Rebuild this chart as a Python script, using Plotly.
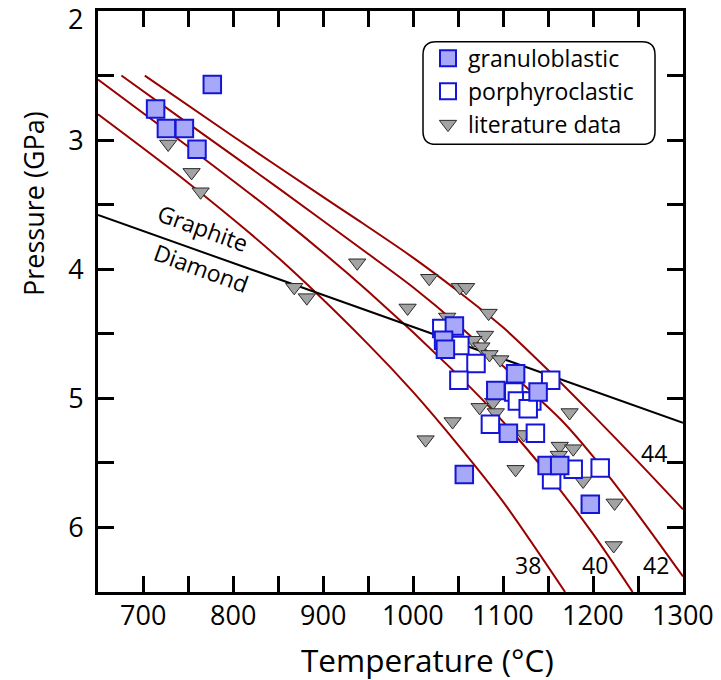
import plotly.graph_objects as go

# ---------------- data ----------------
# geotherms, labelled by surface heat flow (mW/m^2)
t38 = [650, 750, 850, 950, 1000, 1050, 1100, 1169]
p38 = [2.80, 3.33, 3.91, 4.58, 4.95, 5.36, 5.80, 6.50]
t40 = [650, 750, 850, 950, 1050, 1100, 1150, 1200, 1244]
p40 = [2.53, 3.05, 3.585, 4.17, 4.82, 5.18, 5.59, 6.05, 6.50]
t42 = [676, 750, 850, 950, 1000, 1050, 1100, 1165, 1200, 1250, 1300]
p42 = [2.50, 2.87, 3.37, 3.88, 4.14, 4.43, 4.75, 5.17, 5.45, 5.90, 6.38]
t44 = [702, 800, 900, 941, 1000, 1050, 1100, 1150, 1200, 1250, 1300]
p44 = [2.50, 2.97, 3.44, 3.63, 3.91, 4.17, 4.45, 4.78, 5.13, 5.49, 5.86]
geotherm_labels = ["38", "40", "42", "44"]
geotherm_label_t = [1128, 1202, 1270, 1268]
geotherm_label_p = [6.29, 6.29, 6.29, 5.42]

# graphite-diamond transition
t_gd = [650, 1300]
p_gd = [3.58, 5.19]

gran_t = [777, 714, 726, 746, 760, 1046, 1034, 1036, 1114, 1092, 1139, 1106, 1149, 1163, 1197, 1057]
gran_p = [2.57, 2.76, 2.91, 2.91, 3.07, 4.44, 4.55, 4.62, 4.81, 4.94, 4.95, 5.27, 5.52, 5.52, 5.82, 5.59]

por_t = [1032, 1052, 1070, 1051, 1153, 1112, 1116, 1132, 1128, 1086, 1136, 1178, 1208, 1154]
por_p = [4.46, 4.59, 4.73, 4.86, 4.86, 4.95, 5.02, 5.02, 5.08, 5.20, 5.27, 5.55, 5.54, 5.63]

lit_t = [728, 754, 764, 868, 882, 938, 994, 1018, 1052, 1059, 1084, 1038, 1080, 1067, 1076, 1085,
         1097, 1174, 1074, 1089, 1092, 1044, 1014, 1123, 1163, 1178, 1162, 1114, 1189, 1224, 1223]
lit_p = [3.03, 3.25, 3.40, 4.14, 4.22, 3.95, 4.30, 4.07, 4.14, 4.14, 4.34, 4.37, 4.51, 4.55, 4.60, 4.66,
         4.70, 5.11, 5.07, 5.03, 5.11, 5.18, 5.32, 5.28, 5.37, 5.39, 5.44, 5.55, 5.64, 5.81, 6.14]

x_ticks = list(range(650, 1301, 50))
x_ticktext = [str(v) if v % 100 == 0 else "" for v in x_ticks]
y_ticks = [2 + 0.5 * i for i in range(10)]
y_ticktext = [str(int(v)) if (v == int(v) and v != 2) else "" for v in y_ticks]

# ---------------- figure ----------------
FONT = "Open Sans"
RED = "#990000"
X0, X1 = 650, 1300
Y0, Y1 = 2.0, 6.5
L, R, T, B = 98, 38, 8, 88
W, H = 721, 680
pw, ph = W - L - R, H - T - B


def px2x(px):
    return X0 + (px - L) / pw * (X1 - X0)


def py2y(py):
    return Y0 + (py - T) / ph * (Y1 - Y0)


fig = go.Figure()
for tt, pp in [(t38, p38), (t40, p40), (t42, p42), (t44, p44)]:
    fig.add_trace(go.Scatter(x=tt, y=pp, mode="lines", showlegend=False,
                             line=dict(color=RED, width=2, shape="spline", smoothing=0.8),
                             hoverinfo="skip"))
fig.add_trace(go.Scatter(x=t_gd, y=p_gd, mode="lines", showlegend=False,
                         line=dict(color="black", width=2), hoverinfo="skip"))

fig.add_trace(go.Scatter(x=lit_t, y=lit_p, mode="markers", name="literature data",
                         legendrank=3,
                         marker=dict(symbol="triangle-down", size=15, color="#a3a3a3",
                                     line=dict(color="#2a2a2a", width=1))))
fig.add_trace(go.Scatter(x=por_t, y=por_p, mode="markers", name="porphyroclastic",
                         legendrank=2,
                         marker=dict(symbol="square", size=17.5, color="white",
                                     line=dict(color="#1515d8", width=2))))
fig.add_trace(go.Scatter(x=gran_t, y=gran_p, mode="markers", name="granuloblastic",
                         legendrank=1,
                         marker=dict(symbol="square", size=17.5, color="#a8a8f8",
                                     line=dict(color="#1515d8", width=2))))

# rounded legend frame
bx0, bx1, by0, by1, rad = 423, 655, 39, 142, 13
path = (f"M {px2x(bx0 + rad)},{py2y(by0)} L {px2x(bx1 - rad)},{py2y(by0)} "
        f"Q {px2x(bx1)},{py2y(by0)} {px2x(bx1)},{py2y(by0 + rad)} "
        f"L {px2x(bx1)},{py2y(by1 - rad)} Q {px2x(bx1)},{py2y(by1)} {px2x(bx1 - rad)},{py2y(by1)} "
        f"L {px2x(bx0 + rad)},{py2y(by1)} Q {px2x(bx0)},{py2y(by1)} {px2x(bx0)},{py2y(by1 - rad)} "
        f"L {px2x(bx0)},{py2y(by0 + rad)} Q {px2x(bx0)},{py2y(by0)} {px2x(bx0 + rad)},{py2y(by0)} Z")
fig.add_shape(type="path", path=path, xref="x", yref="y",
              line=dict(color="black", width=1.5), fillcolor="rgba(0,0,0,0)", layer="above")

annotations = []
for lab, lt, lp in zip(geotherm_labels, geotherm_label_t, geotherm_label_p):
    annotations.append(dict(x=lt, y=lp, text=lab, showarrow=False, xref="x", yref="y",
                            font=dict(family=FONT, size=23, color="black")))
annotations.append(dict(x=767, y=3.68, text="Graphite", textangle=20, showarrow=False,
                        xref="x", yref="y", font=dict(family=FONT, size=23, color="black")))
annotations.append(dict(x=765, y=3.99, text="Diamond", textangle=20, showarrow=False,
                        xref="x", yref="y", font=dict(family=FONT, size=23, color="black")))
# x tick labels, placed close under the axis as in the reference
for v, txt in zip(x_ticks, x_ticktext):
    if txt:
        annotations.append(dict(x=v, y=0, xref="x", yref="paper", yanchor="middle",
                                yshift=-(614 - 592), text=txt, showarrow=False,
                                font=dict(family=FONT, size=27, color="black")))
# top y tick label, drawn slightly lower as in the reference
annotations.append(dict(x=0, y=py2y(16), xref="paper", yref="y", text="2", showarrow=False,
                        xanchor="right", xshift=-13,
                        font=dict(family=FONT, size=27, color="black")))
# axis titles
annotations.append(dict(x=px2x(427), y=0, xref="x", yref="paper", yanchor="middle",
                        yshift=-(659 - 592), text="Temperature (°C)", showarrow=False,
                        font=dict(family=FONT, size=31.5, color="black")))
annotations.append(dict(x=0, y=py2y(202), xref="paper", yref="y", xanchor="center",
                        xshift=-(98 - 33), text="Pressure (GPa)", textangle=-90, showarrow=False,
                        font=dict(family=FONT, size=27, color="black")))

axis_common = dict(showgrid=False, zeroline=False, showline=True, linecolor="black", linewidth=3,
                   mirror="ticks", ticks="inside", ticklen=16, tickwidth=2.5, tickcolor="black",
                   tickfont=dict(family=FONT, size=27, color="black"))

fig.update_layout(
    width=W, height=H, margin=dict(l=L, r=R, t=T, b=B),
    plot_bgcolor="white", paper_bgcolor="white",
    xaxis=dict(range=[X0, X1], tickmode="array", tickvals=x_ticks,
               ticktext=[""] * len(x_ticks), **axis_common),
    yaxis=dict(range=[Y1, Y0], tickmode="array", tickvals=y_ticks, ticktext=y_ticktext,
               ticklabelstandoff=6, **axis_common),
    legend=dict(x=(428 - L) / pw, y=1 - (34 - T) / ph, xanchor="left", yanchor="top",
                bgcolor="rgba(0,0,0,0)", borderwidth=0, traceorder="normal",
                font=dict(family=FONT, size=23, color="black"), itemwidth=30),
    annotations=annotations,
    showlegend=True,
)

fig.write_html("out.html")
